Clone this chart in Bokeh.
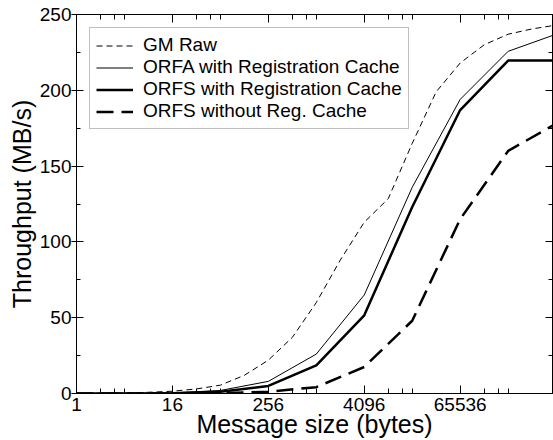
from bokeh.plotting import figure
from bokeh.models import Range1d, LogAxis, LinearAxis, FixedTicker, Legend, LegendItem
from bokeh.embed import file_html
from bokeh.resources import INLINE

# ---- data ----
gm_sizes = [1, 2, 4, 8, 16, 32, 64, 128, 256, 512, 1024, 2048, 4096, 8192,
            16384, 32768, 65536, 131072, 262144, 524288, 1048576]
gm_raw = [0.1, 0.2, 0.4, 0.8, 1.5, 3.0, 5.5, 12, 22, 37, 60, 88, 113, 128.5,
          165, 199, 218, 230, 237, 240.5, 243]

orf_sizes = [1, 4, 16, 64, 256, 1024, 4096, 16384, 65536, 262144, 1048576]
orfa_reg = [0.02, 0.1, 0.4, 2.0, 8.0, 26, 65, 136, 194, 225.7, 237]
orfs_reg = [0.01, 0.05, 0.2, 1.2, 5.0, 18.6, 51.6, 123, 187, 219.6, 219.6]
orfs_noreg = [0.0, 0.0, 0.05, 0.2, 1.2, 4.2, 17.5, 48, 115, 160, 178]

x_ticks = [1, 16, 256, 4096, 65536]
x_tick_labels = ["1", "16", "256", "4096", "65536"]
x_minor = [2, 3, 4, 32, 48, 64, 512, 768, 1024, 8192, 12288, 16384,
           131072, 196608, 262144]
y_ticks = [0, 50, 100, 150, 200, 250]
y_minor = [25, 75, 125, 175, 225]

series_names = ["GM Raw", "ORFA with Registration Cache",
                "ORFS with Registration Cache", "ORFS without Reg. Cache"]

FONT = "Liberation Sans"

p = figure(width=553, height=440, x_axis_type="log",
           x_range=Range1d(1, 2 ** 19.85), y_range=Range1d(0, 250),
           output_backend="svg", toolbar_location=None,
           min_border_left=76, min_border_right=1, min_border_top=14,
           min_border_bottom=47)
p.xgrid.visible = False
p.ygrid.visible = False
p.outline_line_color = "black"
p.outline_line_width = 1

r_gm = p.line(gm_sizes, gm_raw, line_color="black", line_width=1, line_dash="6 4")
r_orfa = p.line(orf_sizes, orfa_reg, line_color="black", line_width=1)
r_orfs = p.line(orf_sizes, orfs_reg, line_color="black", line_width=2.5)
r_nor = p.line(orf_sizes, orfs_noreg, line_color="black", line_width=2.5, line_dash="17 8")

xt = FixedTicker(ticks=x_ticks, minor_ticks=x_minor)
yt = FixedTicker(ticks=y_ticks, minor_ticks=y_minor)

xa = p.xaxis[0]
xa.ticker = xt
xa.major_label_overrides = {t: l for t, l in zip(x_ticks, x_tick_labels)}
xa.major_tick_in = 8
xa.major_tick_out = 0
xa.minor_tick_in = 5
xa.minor_tick_out = 0
xa.major_label_standoff = 4
xa.axis_label = "Message size (bytes)"
xa.axis_label_standoff = -4

ya = p.yaxis[0]
ya.ticker = yt
ya.major_tick_in = 7
ya.major_tick_out = 5
ya.minor_tick_in = 4
ya.minor_tick_out = 0
ya.major_label_standoff = 0
ya.axis_label = "Throughput (MB/s)"
ya.axis_label_standoff = 1

for ax in (xa, ya):
    ax.major_label_text_font = FONT
    ax.major_label_text_font_size = "19px"
    ax.major_label_text_color = "black"
    ax.axis_label_text_font = FONT
    ax.axis_label_text_font_size = "25px"
    ax.axis_label_text_font_style = "normal"
    ax.axis_label_text_color = "black"
    ax.axis_line_color = "black"
    ax.major_tick_line_color = "black"
    ax.minor_tick_line_color = "black"

blank_x = {t: "" for t in x_ticks}
blank_y = {t: "" for t in y_ticks}
top = LogAxis(ticker=xt, major_tick_in=8, major_tick_out=0, minor_tick_in=5,
              minor_tick_out=0, major_label_text_font_size="1px",
              major_label_overrides=blank_x, major_label_standoff=0)
right = LinearAxis(ticker=yt, major_tick_in=7, major_tick_out=0, minor_tick_in=4,
                   minor_tick_out=0, major_label_text_font_size="1px",
                   major_label_overrides=blank_y, major_label_standoff=0)
p.add_layout(top, "above")
p.add_layout(right, "right")

legend = Legend(items=[LegendItem(label=series_names[0], renderers=[r_gm]),
                       LegendItem(label=series_names[1], renderers=[r_orfa]),
                       LegendItem(label=series_names[2], renderers=[r_orfs]),
                       LegendItem(label=series_names[3], renderers=[r_nor])],
                location="top_left", margin=13, padding=6, spacing=0,
                glyph_width=37, glyph_height=19, label_height=19,
                label_standoff=10, label_text_font=FONT,
                label_text_font_size="19px", label_text_color="black",
                label_text_line_height=0.9,
                border_line_color="#7f7f7f", border_line_width=1,
                background_fill_color="white", background_fill_alpha=1)
p.add_layout(legend)

open("out.html", "w").write(file_html(p, INLINE))
